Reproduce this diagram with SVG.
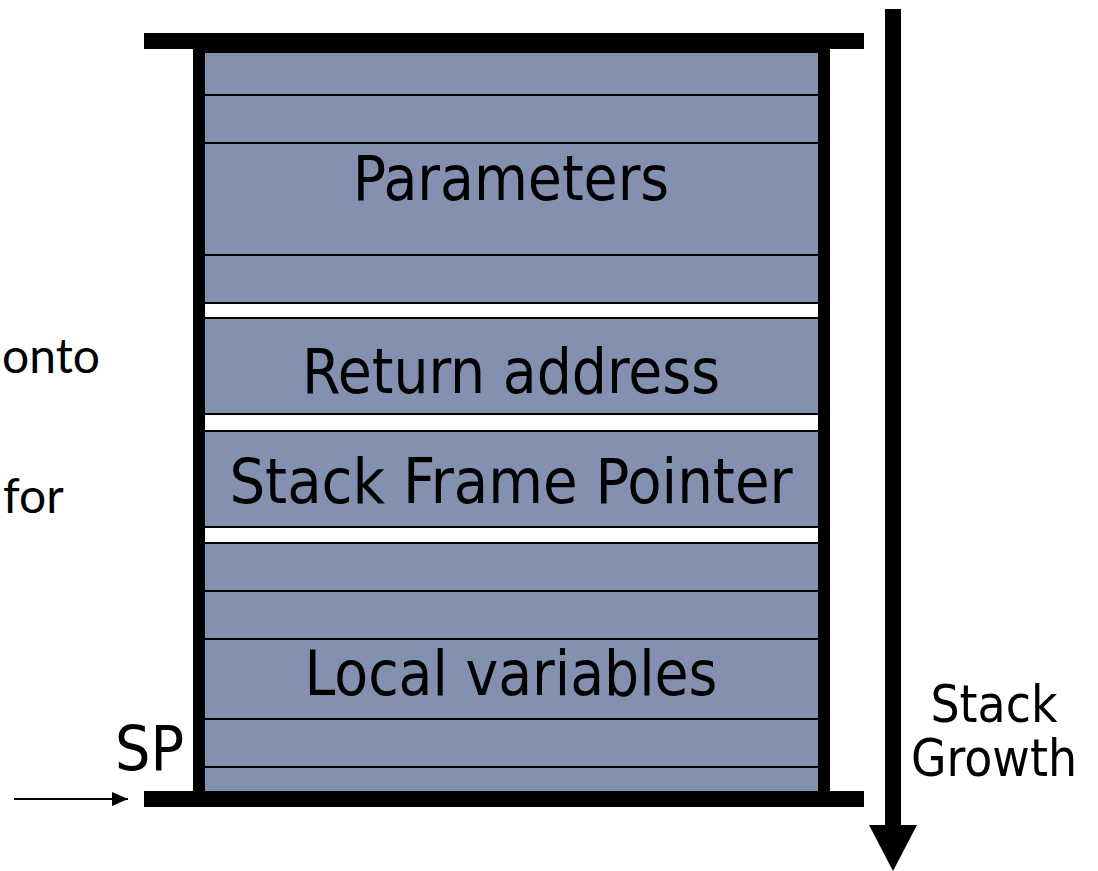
<svg xmlns="http://www.w3.org/2000/svg" width="1098" height="871" viewBox="0 0 1098 871">
  <style>
    .slot { fill: #8390B0; }
    .gap { fill: #FFFFFF; }
    .bar { fill: #000000; }
    .lbl { font-family: "DejaVu Sans Condensed", "DejaVu Sans", sans-serif; font-stretch: condensed; fill: #000; text-anchor: middle; font-size: 61.5px; }
    .side { font-family: "DejaVu Sans Condensed", "DejaVu Sans", sans-serif; font-stretch: condensed; fill: #000; }
    .cut { font-family: Lato, "Open Sans", sans-serif; font-size: 48px; fill: #000; }
  </style>
  <defs>
    <marker id="ah" markerWidth="16" markerHeight="14" refX="16" refY="7" orient="auto" markerUnits="userSpaceOnUse">
      <path d="M0,0 L16,7 L0,14 Z" fill="#000"/>
    </marker>
  </defs>
  <rect width="1098" height="871" fill="#FFFFFF"/>

  <g id="frame">
    <rect class="bar" x="193" y="33" width="637" height="774"/>
    <rect class="bar" x="144" y="33" width="720" height="16"/>
    <rect class="bar" x="144" y="791" width="720" height="16"/>
  </g>

  <g id="parameters">
    <rect class="slot" x="205" y="53" width="613" height="41"/>
    <rect class="slot" x="205" y="96" width="613" height="46"/>
    <rect class="slot" x="205" y="144" width="613" height="110"/>
    <rect class="slot" x="205" y="256" width="613" height="46"/>
    <text class="lbl" x="511" y="200">Parameters</text>
  </g>

  <rect class="gap" x="205" y="304" width="613" height="13"/>

  <g id="return-address">
    <rect class="slot" x="205" y="319" width="613" height="94"/>
    <text class="lbl" x="511" y="393">Return address</text>
  </g>

  <rect class="gap" x="205" y="415" width="613" height="15"/>

  <g id="stack-frame-pointer">
    <rect class="slot" x="205" y="432" width="613" height="94"/>
    <text class="lbl" x="511" y="503" style="font-size:62.5px">Stack Frame Pointer</text>
  </g>

  <rect class="gap" x="205" y="528" width="613" height="14"/>

  <g id="local-variables">
    <rect class="slot" x="205" y="544" width="613" height="46"/>
    <rect class="slot" x="205" y="592" width="613" height="46"/>
    <rect class="slot" x="205" y="640" width="613" height="78"/>
    <rect class="slot" x="205" y="720" width="613" height="46"/>
    <rect class="slot" x="205" y="768" width="613" height="23"/>
    <text class="lbl" x="511" y="695">Local variables</text>
  </g>

  <g id="sp-label">
    <text class="side" x="115" y="770" font-size="62">SP</text>
  </g>

  <g id="stack-growth-label">
    <text class="side" x="994" y="722" font-size="51" text-anchor="middle">Stack</text>
    <text class="side" x="994" y="776" font-size="51" text-anchor="middle">Growth</text>
  </g>

  <g id="cut-text">
    <text class="cut" x="100" y="373" text-anchor="end">onto</text>
    <text class="cut" x="3" y="513">for</text>
  </g>

  <g id="connectors">
    <line x1="14" y1="799" x2="128" y2="799" stroke="#000" stroke-width="2" marker-end="url(#ah)"/>
    <rect x="885" y="9" width="16" height="817" fill="#000"/>
    <polygon points="869,825 917,825 893,871" fill="#000"/>
  </g>
</svg>
